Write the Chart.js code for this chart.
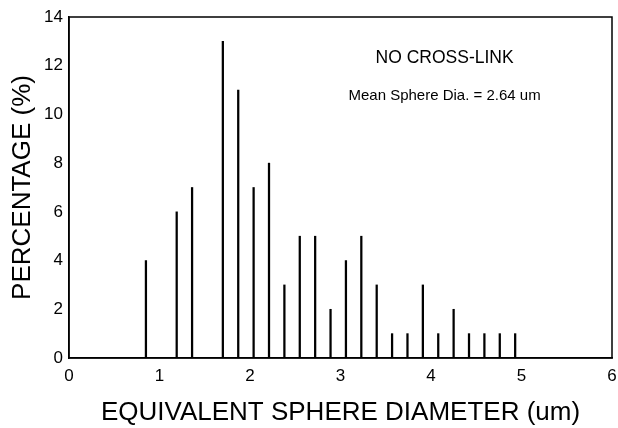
<!DOCTYPE html>
<html>
<head>
<meta charset="utf-8">
<script src="https://cdn.jsdelivr.net/npm/chart.js@4.4.1/dist/chart.umd.min.js"></script>
<style>
  html, body { margin: 0; padding: 0; background: #fff; }
  #wrap { width: 618px; height: 428px; }
</style>
</head>
<body>
<div id="wrap"><canvas id="chart-bars"></canvas></div>
<script>
  // bin centres (um) and percentage in each bin
  const diameters = [0.85, 1.19, 1.36, 1.70, 1.87, 2.04, 2.21, 2.38, 2.55, 2.72, 2.89, 3.06,
                     3.23, 3.40, 3.57, 3.74, 3.91, 4.08, 4.25, 4.42, 4.59, 4.76, 4.93];
  const percents = [4, 6, 7, 13, 11, 7, 8, 3, 5, 5, 2, 4,
                    5, 3, 1, 1, 3, 1, 2, 1, 1, 1, 1];
  const xTicks = [0, 1, 2, 3, 4, 5, 6];
  const yTicks = [0, 2, 4, 6, 8, 10, 12, 14];
  const notes = ['NO CROSS-LINK', 'Mean Sphere Dia. = 2.64 um'];

  const fontFamily = "'Liberation Sans', Arial, Helvetica, sans-serif";

  // frame round the plot and the two text lines
  const framePlugin = {
    id: 'frame',
    afterDraw(chart) {
      const ctx = chart.ctx;
      const a = chart.chartArea;
      ctx.save();
      ctx.strokeStyle = '#000';
      ctx.lineWidth = 1.5;
      ctx.strokeRect(a.left, a.top, a.right - a.left, a.bottom - a.top);
      ctx.fillStyle = '#000';
      ctx.textAlign = 'center';
      ctx.textBaseline = 'middle';
      const x = chart.scales.x.getPixelForValue(4.15);
      ctx.font = '17.5px ' + fontFamily;
      ctx.fillText(notes[0], x, chart.scales.y.getPixelForValue(12.3));
      ctx.font = '15px ' + fontFamily;
      ctx.fillText(notes[1], x, chart.scales.y.getPixelForValue(10.78));
      ctx.restore();
    }
  };

  const ctx = document.getElementById('chart-bars').getContext('2d');
  new Chart(ctx, {
    type: 'bar',
    data: {
      datasets: [{
        data: diameters.map((d, i) => ({ x: d, y: percents[i] })),
        backgroundColor: '#000',
        borderWidth: 0,
        barThickness: 1.6
      }]
    },
    options: {
      responsive: true,
      maintainAspectRatio: false,
      animation: false,
      layout: { padding: { top: 17, right: 6, left: 0, bottom: 0 } },
      plugins: {
        legend: { display: false },
        tooltip: { enabled: false }
      },
      scales: {
        x: {
          type: 'linear',
          min: 0,
          max: 6,
          offset: false,
          grid: { display: false, drawTicks: false },
          border: { display: true, color: '#000', width: 1.5 },
          afterBuildTicks: (scale) => { scale.ticks = xTicks.map(v => ({ value: v })); },
          afterFit: (scale) => {
            scale.height = 70;
            scale.paddingLeft = 0;
            scale.paddingRight = 0;
          },
          ticks: {
            padding: 8,
            color: '#000',
            maxRotation: 0,
            font: { size: 17, family: fontFamily }
          },
          title: {
            display: true,
            text: 'EQUIVALENT SPHERE DIAMETER (um)',
            color: '#000',
            padding: { top: 0, bottom: 0 },
            font: { size: 26, family: fontFamily }
          }
        },
        y: {
          min: 0,
          max: 14,
          grid: { display: false, drawTicks: false },
          border: { display: true, color: '#000', width: 1.5 },
          afterBuildTicks: (scale) => { scale.ticks = yTicks.map(v => ({ value: v })); },
          afterFit: (scale) => { scale.width = 69; },
          ticks: {
            padding: 6,
            color: '#000',
            font: { size: 17, family: fontFamily }
          },
          title: {
            display: true,
            text: 'PERCENTAGE (%)',
            color: '#000',
            padding: { top: 7, bottom: 0 },
            font: { size: 26, family: fontFamily }
          }
        }
      }
    },
    plugins: [framePlugin]
  });
</script>
</body>
</html>
